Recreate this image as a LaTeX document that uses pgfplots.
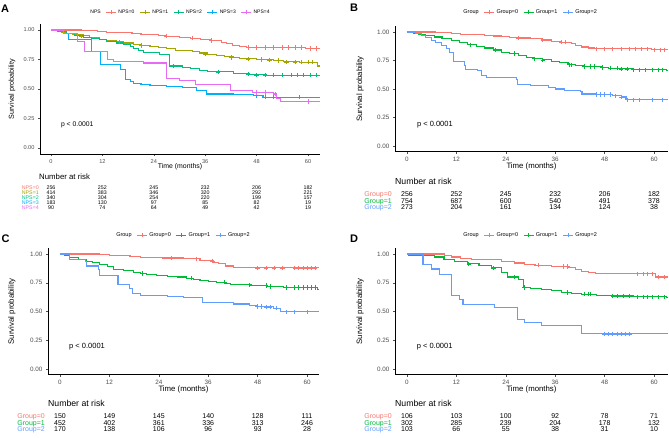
\documentclass[border=0pt]{standalone}
\usepackage{pgfplots}
\pgfplotsset{compat=1.18}
\usepackage{fontspec}
\setmainfont{Liberation Sans}
\definecolor{c0}{HTML}{F8766D}
\definecolor{c1}{HTML}{A3A500}
\definecolor{c2}{HTML}{00BF7D}
\definecolor{c3}{HTML}{00B0F6}
\definecolor{c4}{HTML}{E76BF3}
\definecolor{gg}{HTML}{00BA38}
\definecolor{gb}{HTML}{619CFF}
\definecolor{tickgrey}{HTML}{4D4D4D}
\newcommand\fs[1]{\fontsize{#1}{#1}\selectfont}
\pgfplotsset{
 km/.style={
  scale only axis, anchor=south west,
  axis x line*=bottom, axis y line*=left,
  axis line style={black, line width=0.6pt, -},
  ymin=-0.05, ymax=1.05,
  xtick={0,12,24,36,48,60},
  ytick={0,0.25,0.5,0.75,1},
  yticklabels={0.00,0.25,0.50,0.75,1.00},
  xticklabels={0,12,24,36,48,60},
  tick align=outside, major tick length=2pt,
  tick style={tickgrey, line width=0.5pt},
  tick label style={text=tickgrey},
  clip=false,
  xlabel={Time (months)},
  ylabel={Survival probability},
  legend columns=-1,
  legend style={draw=none, fill=none, anchor=center, inner sep=0pt,
    /tikz/every even column/.append style={column sep=3pt}},
  legend image code/.code={\draw[##1] (0pt,0pt) -- (10pt,0pt); \draw[##1,line width=0.7pt] (5pt,-2pt) -- (5pt,2pt);},
  /pgf/number format/assume math mode=true,
 },
 cv/.style={const plot, no marks, line width=1.1pt, draw=#1, forget plot},
 cm/.style={only marks, mark=+, mark size=2.2pt, draw=#1, mark options={draw=#1, line width=0.7pt}, forget plot},
 li/.style={draw=#1, line width=0.8pt},
}
% risk row: y, colour, label, six numbers
\newcommand\riskrow[9]{%
 \node[anchor=mid east,text=#2,inner sep=0pt,font=\rfont] at (axis cs:\labx,#1) {#3};
 \node[anchor=mid,inner sep=0pt,font=\rfont] at (axis cs:0,#1) {#4};
 \node[anchor=mid,inner sep=0pt,font=\rfont] at (axis cs:12,#1) {#5};
 \node[anchor=mid,inner sep=0pt,font=\rfont] at (axis cs:24,#1) {#6};
 \node[anchor=mid,inner sep=0pt,font=\rfont] at (axis cs:36,#1) {#7};
 \node[anchor=mid,inner sep=0pt,font=\rfont] at (axis cs:48,#1) {#8};
 \node[anchor=mid,inner sep=0pt,font=\rfont] at (axis cs:60,#1) {#9};
}
\begin{document}
\begin{tikzpicture}
\useasboundingbox (0pt,0pt) rectangle (669pt,437pt);
% ---------------- Panel A ----------------
\def\labx{-2.8}\def\rfont{\fs{5.3}}
\begin{axis}[km, at={(40pt,283.1pt)}, width=280pt, height=129.8pt,
  xmin=-2.57, xmax=62.8,
  tick label style={font=\fs{5.6}},
  xlabel style={at={(axis description cs:0.5,-0.10)}, anchor=center, font=\fs{6.9}},
  ylabel style={at={(axis description cs:-0.10,0.5)}, anchor=center, font=\fs{7.2}},
  legend style={at={(0.5,1.093)}, font=\fs{5}}]
\addlegendimage{empty legend}\addlegendentry{NPS}
\addlegendimage{li=c0}\addlegendentry{NPS=0}
\addlegendimage{li=c1}\addlegendentry{NPS=1}
\addlegendimage{li=c2}\addlegendentry{NPS=2}
\addlegendimage{li=c3}\addlegendentry{NPS=3}
\addlegendimage{li=c4}\addlegendentry{NPS=4}
\addplot[cv=c0] coordinates {(0,1)(7,0.995)(10.8,0.99)(13,0.982)(14.8,0.976)(18.9,0.97)(21,0.965)(22.9,0.96)(25,0.953)(27,0.947)(30,0.94)(32.6,0.93)(35,0.92)(37.5,0.91)(39.9,0.897)(41,0.885)(42.3,0.868)(44,0.86)(45.6,0.853)(59.4,0.844)(62.8,0.844)};
\addplot[cv=c1] coordinates {(0,1)(1.5,0.99)(2.5,0.98)(3.7,0.97)(5,0.96)(7.5,0.95)(9,0.935)(11.4,0.92)(13,0.91)(15.3,0.90)(17,0.89)(19.2,0.88)(21,0.87)(23.1,0.86)(25,0.85)(27,0.84)(29,0.83)(30.8,0.825)(33,0.815)(34.7,0.805)(36.5,0.795)(38.6,0.786)(40.5,0.776)(42.5,0.767)(44,0.76)(46.4,0.755)(48,0.75)(50.3,0.747)(52,0.74)(54.2,0.73)(58,0.728)(62.3,0.695)(62.8,0.695)};
\addplot[cv=c2] coordinates {(0,1)(1.5,0.985)(3.7,0.967)(5.5,0.955)(7.5,0.94)(9.5,0.93)(11.4,0.917)(13,0.905)(15.3,0.89)(17,0.875)(18.5,0.86)(19.2,0.847)(20.5,0.825)(21.5,0.806)(25.4,0.79)(27.7,0.695)(30.8,0.68)(32.5,0.67)(34.7,0.66)(36.5,0.652)(38.6,0.645)(42.5,0.633)(46.4,0.625)(50.3,0.617)(62.8,0.617)};
\addplot[cv=c3] coordinates {(0,1)(2,0.985)(2.9,0.97)(4,0.917)(9.5,0.82)(11.5,0.71)(16.3,0.667)(17.3,0.583)(18.5,0.56)(19.2,0.55)(21,0.54)(23.1,0.533)(27,0.52)(30.8,0.51)(34,0.486)(36.3,0.458)(42.5,0.45)(47.2,0.444)(49.5,0.43)(62.8,0.43)};
\addplot[cv=c4] coordinates {(0,1)(2.9,0.97)(6.2,0.90)(7.9,0.82)(13.1,0.75)(14.5,0.736)(21.5,0.72)(26.9,0.59)(30,0.57)(33.8,0.54)(41.9,0.486)(47,0.47)(52,0.458)(52.6,0.417)(53.5,0.395)(62.8,0.395)};
\addplot[cm=c0] coordinates {(27,0.947)(33,0.93)(37.5,0.91)(46,0.853)(48,0.853)(50,0.853)(52,0.853)(54,0.853)(55.5,0.853)(57,0.853)(58.5,0.853)(60.5,0.844)(62,0.844)};
\addplot[cm=c1] coordinates {(7,0.95)(16,0.90)(21,0.87)(36,0.795)(42,0.767)(46,0.755)(49,0.75)(51,0.747)(53,0.74)(55,0.73)(57,0.728)(58.5,0.728)(60,0.728)(61,0.728)};
\addplot[cm=c2] coordinates {(28.5,0.695)(39,0.645)(46,0.625)(48,0.617)(50,0.617)(52,0.617)(54,0.617)(56,0.617)(57.5,0.617)(59,0.617)(60.5,0.617)(62,0.617)};
\addplot[cm=c3] coordinates {(48,0.444)(50,0.43)(52,0.43)(58,0.43)};
\addplot[cm=c4] coordinates {(48,0.47)(50,0.47)(52.3,0.458)(60,0.395)};
\node[anchor=west,inner sep=0pt,font=\fs{6.8}] at (axis cs:2.3,0.195) {p < 0.0001};
\node[anchor=west,inner sep=0pt,font=\fs{7.8}] at (axis cs:-2.8,-0.246) {Number at risk};
\riskrow{-0.33}{c0}{NPS=0}{256}{252}{245}{232}{206}{182}
\riskrow{-0.373}{c1}{NPS=1}{414}{383}{346}{320}{292}{221}
\riskrow{-0.415}{c2}{NPS=2}{340}{304}{254}{220}{199}{157}
\riskrow{-0.458}{c3}{NPS=3}{183}{130}{97}{85}{82}{19}
\riskrow{-0.5}{c4}{NPS=4}{90}{74}{64}{49}{42}{19}
\end{axis}
% ---------------- Panel B ----------------
\def\labx{-3.64}\def\rfont{\fs{7}}
\begin{axis}[km, at={(395pt,285.3pt)}, width=273pt, height=125.4pt,
  xmin=-2.91, xmax=63.4,
  tick label style={font=\fs{6.3}},
  xlabel style={at={(axis description cs:0.5,-0.114)}, anchor=center, font=\fs{7.8}},
  ylabel style={at={(axis description cs:-0.128,0.5)}, anchor=center, font=\fs{7.8}},
  legend style={at={(0.495,1.114)}, font=\fs{5.5}}]
\addlegendimage{empty legend}\addlegendentry{Group}
\addlegendimage{li=c0}\addlegendentry{Group=0}
\addlegendimage{li=gg}\addlegendentry{Group=1}
\addlegendimage{li=gb}\addlegendentry{Group=2}
\addplot[cv=c0] coordinates {(0,1)(7,0.995)(10.8,0.99)(13,0.982)(14.8,0.976)(18.9,0.97)(21,0.965)(22.9,0.96)(25,0.953)(27,0.947)(30,0.94)(32.6,0.93)(35,0.92)(37.5,0.91)(39.9,0.897)(41,0.885)(42.3,0.868)(44,0.86)(45.6,0.853)(59.4,0.844)(63.4,0.844)};
\addplot[cv=gg] coordinates {(0,1)(1.5,0.99)(2.7,0.976)(4.5,0.966)(6.7,0.956)(8.5,0.94)(10.8,0.926)(12.8,0.905)(14.8,0.888)(16.8,0.875)(18.9,0.86)(21,0.842)(22.9,0.824)(25,0.81)(27,0.794)(29,0.78)(31,0.765)(33,0.755)(35,0.744)(37,0.73)(39.1,0.712)(41,0.705)(43.2,0.697)(47.2,0.69)(49,0.683)(51.3,0.676)(55,0.668)(63,0.66)(63.4,0.66)};
\addplot[cv=gb] coordinates {(0,1)(2,0.985)(3.5,0.97)(4.5,0.95)(5.9,0.926)(7,0.905)(8.3,0.88)(9.5,0.855)(10.4,0.82)(11.2,0.744)(13.9,0.706)(14.3,0.668)(17.2,0.66)(18,0.618)(19.3,0.597)(26.5,0.58)(26.9,0.538)(30,0.53)(34.3,0.515)(36,0.5)(38.3,0.485)(42.2,0.48)(42.5,0.456)(46,0.45)(50,0.44)(52,0.43)(53.2,0.406)(63.4,0.406)};
\addplot[cm=c0] coordinates {(27,0.947)(33,0.93)(37.5,0.91)(38.5,0.91)(46,0.853)(48,0.853)(50,0.853)(52,0.853)(54,0.853)(55.5,0.853)(57,0.853)(58.5,0.853)(60,0.844)(61.5,0.844)(62.5,0.844)};
\addplot[cm=gg] coordinates {(15.5,0.888)(21.5,0.842)(26,0.81)(31,0.765)(33,0.755)(39.5,0.712)(40,0.712)(43,0.697)(44.5,0.697)(45.5,0.697)(47.5,0.69)(49.5,0.683)(51,0.683)(52,0.676)(53.5,0.676)(55,0.668)(56.5,0.668)(58,0.668)(59.5,0.668)(61,0.668)(62,0.668)};
\addplot[cm=gb] coordinates {(46,0.45)(47,0.45)(48,0.45)(49.5,0.45)(50.5,0.44)(52,0.43)(53.5,0.406)(55,0.406)(56.5,0.406)(59.5,0.406)(62,0.406)};
\node[anchor=west,inner sep=0pt,font=\fs{7.5}] at (axis cs:2.4,0.19) {p < 0.0001};
\node[anchor=west,inner sep=0pt,font=\fs{8.7}] at (axis cs:-2.91,-0.307) {Number at risk};
\riskrow{-0.421}{c0}{Group=0}{256}{252}{245}{232}{206}{182}
\riskrow{-0.482}{gg}{Group=1}{754}{687}{600}{540}{491}{378}
\riskrow{-0.535}{gb}{Group=2}{273}{204}{161}{134}{124}{38}
\end{axis}
% ---------------- Panel C ----------------
\def\labx{-3.64}\def\rfont{\fs{7}}
\begin{axis}[km, at={(48pt,62.25pt)}, width=271pt, height=126.5pt,
  xmin=-2.91, xmax=62.9,
  tick label style={font=\fs{6.3}},
  xlabel style={at={(axis description cs:0.5,-0.113)}, anchor=center, font=\fs{7.8}},
  ylabel style={at={(axis description cs:-0.133,0.5)}, anchor=center, font=\fs{7.8}},
  legend style={at={(0.498,1.105)}, font=\fs{5.5}}]
\addlegendimage{empty legend}\addlegendentry{Group}
\addlegendimage{li=c0}\addlegendentry{Group=0}
\addlegendimage{li=gg}\addlegendentry{Group=1}
\addlegendimage{li=gb}\addlegendentry{Group=2}
\addplot[cv=c0] coordinates {(0,1)(9.7,0.997)(12,0.99)(13.8,0.986)(17,0.98)(19.5,0.972)(25,0.965)(30,0.958)(34,0.947)(36.5,0.94)(37.3,0.93)(38.5,0.92)(40.1,0.896)(42.2,0.879)(62.9,0.879)};
\addplot[cv=gg] coordinates {(0,1)(1,0.985)(2.4,0.966)(4.5,0.955)(6.5,0.938)(8,0.925)(9.7,0.91)(11.5,0.89)(13,0.868)(15.5,0.855)(17.8,0.84)(19.5,0.83)(21.1,0.82)(23.5,0.812)(26,0.806)(28.5,0.8)(30.8,0.79)(32.5,0.78)(34,0.77)(36,0.763)(38.1,0.756)(40,0.745)(41.4,0.733)(46.2,0.727)(50.3,0.719)(54.3,0.708)(62.5,0.69)(62.9,0.69)};
\addplot[cv=gb] coordinates {(0,1)(2.4,0.952)(6.1,0.938)(6.5,0.896)(9.3,0.868)(9.7,0.81)(14.1,0.736)(16.8,0.70)(17.6,0.657)(19.5,0.637)(26,0.629)(30,0.62)(34.5,0.579)(42.2,0.565)(46,0.55)(47.9,0.545)(50,0.54)(51.9,0.53)(53.5,0.497)(62.9,0.497)};
\addplot[cm=c0] coordinates {(27,0.965)(33,0.958)(37,0.94)(48,0.879)(50,0.879)(52,0.879)(54,0.879)(57,0.879)(58,0.879)(59,0.879)(60,0.879)(61,0.879)(62,0.879)};
\addplot[cm=gg] coordinates {(20,0.83)(32,0.79)(40,0.756)(46,0.733)(50,0.727)(51,0.719)(55,0.708)(57,0.708)(58,0.708)(59,0.708)(60,0.708)(61,0.708)(62,0.708)};
\addplot[cm=gb] coordinates {(48,0.545)(49,0.545)(50,0.54)(51,0.54)(52.5,0.53)(55,0.497)(57,0.497)(60,0.497)};
\node[anchor=west,inner sep=0pt,font=\fs{7.5}] at (axis cs:2.2,0.19) {p < 0.0001};
\node[anchor=west,inner sep=0pt,font=\fs{8.7}] at (axis cs:-2.91,-0.296) {Number at risk};
\riskrow{-0.409}{c0}{Group=0}{150}{149}{145}{140}{128}{111}
\riskrow{-0.47}{gg}{Group=1}{452}{402}{361}{336}{313}{246}
\riskrow{-0.522}{gb}{Group=2}{170}{138}{106}{96}{93}{28}
\end{axis}
% ---------------- Panel D ----------------
\def\labx{-3.64}\def\rfont{\fs{7}}
\begin{axis}[km, at={(395pt,62.25pt)}, width=273pt, height=126.5pt,
  xmin=-2.91, xmax=63.4,
  tick label style={font=\fs{6.3}},
  xlabel style={at={(axis description cs:0.5,-0.113)}, anchor=center, font=\fs{7.8}},
  ylabel style={at={(axis description cs:-0.128,0.5)}, anchor=center, font=\fs{7.8}},
  legend style={at={(0.495,1.105)}, font=\fs{5.5}}]
\addlegendimage{empty legend}\addlegendentry{Group}
\addlegendimage{li=c0}\addlegendentry{Group=0}
\addlegendimage{li=gg}\addlegendentry{Group=1}
\addlegendimage{li=gb}\addlegendentry{Group=2}
\addplot[cv=c0] coordinates {(0,1)(9.2,0.99)(10.8,0.974)(13,0.96)(15.7,0.951)(23,0.937)(26.2,0.922)(28.5,0.912)(31.1,0.902)(35,0.89)(39.2,0.879)(41,0.865)(42.4,0.85)(44,0.84)(45.7,0.828)(60.3,0.80)(63.4,0.80)};
\addplot[cv=gg] coordinates {(0,1)(0.5,0.986)(6.7,0.974)(9,0.955)(11.6,0.937)(14.8,0.914)(17.5,0.9)(20.5,0.879)(23,0.842)(24.5,0.80)(27,0.779)(28.2,0.707)(30,0.70)(32.7,0.693)(35,0.68)(37.6,0.664)(40,0.657)(42.4,0.65)(46,0.642)(49.7,0.635)(55,0.628)(63,0.62)(63.4,0.62)};
\addplot[cv=gb] coordinates {(0,1)(3.9,0.908)(5.9,0.87)(7.9,0.822)(10.8,0.64)(12.8,0.606)(13.6,0.563)(21.3,0.534)(26.9,0.434)(28.6,0.405)(32.7,0.376)(42.4,0.305)(63.4,0.305)};
\addplot[cm=c0] coordinates {(32,0.902)(38,0.89)(39,0.89)(56,0.828)(57.5,0.828)(58.5,0.828)(59.5,0.828)(61,0.80)(62.5,0.80)};
\addplot[cm=gg] coordinates {(15,0.914)(21,0.879)(26,0.80)(28.5,0.707)(39,0.664)(43,0.65)(44,0.65)(44.5,0.65)(50,0.635)(51,0.635)(52.5,0.635)(54,0.635)(56,0.628)(57.5,0.628)(58.5,0.628)(59.5,0.628)(61,0.628)(62.5,0.628)};
\addplot[cm=gb] coordinates {(48,0.305)(49,0.305)(50,0.305)(51,0.305)(52,0.305)(53,0.305)(54,0.305)};
\node[anchor=west,inner sep=0pt,font=\fs{7.5}] at (axis cs:2.35,0.194) {p < 0.0001};
\node[anchor=west,inner sep=0pt,font=\fs{8.7}] at (axis cs:-2.91,-0.296) {Number at risk};
\riskrow{-0.409}{c0}{Group=0}{106}{103}{100}{92}{78}{71}
\riskrow{-0.47}{gg}{Group=1}{302}{285}{239}{204}{178}{132}
\riskrow{-0.522}{gb}{Group=2}{103}{66}{55}{38}{31}{10}
\end{axis}
% panel letters
\node[font=\bfseries\fs{11}] at (5pt,428.5pt) {A};
\node[font=\bfseries\fs{11}] at (354pt,429.5pt) {B};
\node[font=\bfseries\fs{11}] at (5.5pt,198.5pt) {C};
\node[font=\bfseries\fs{11}] at (354pt,198pt) {D};
\end{tikzpicture}
\end{document}
